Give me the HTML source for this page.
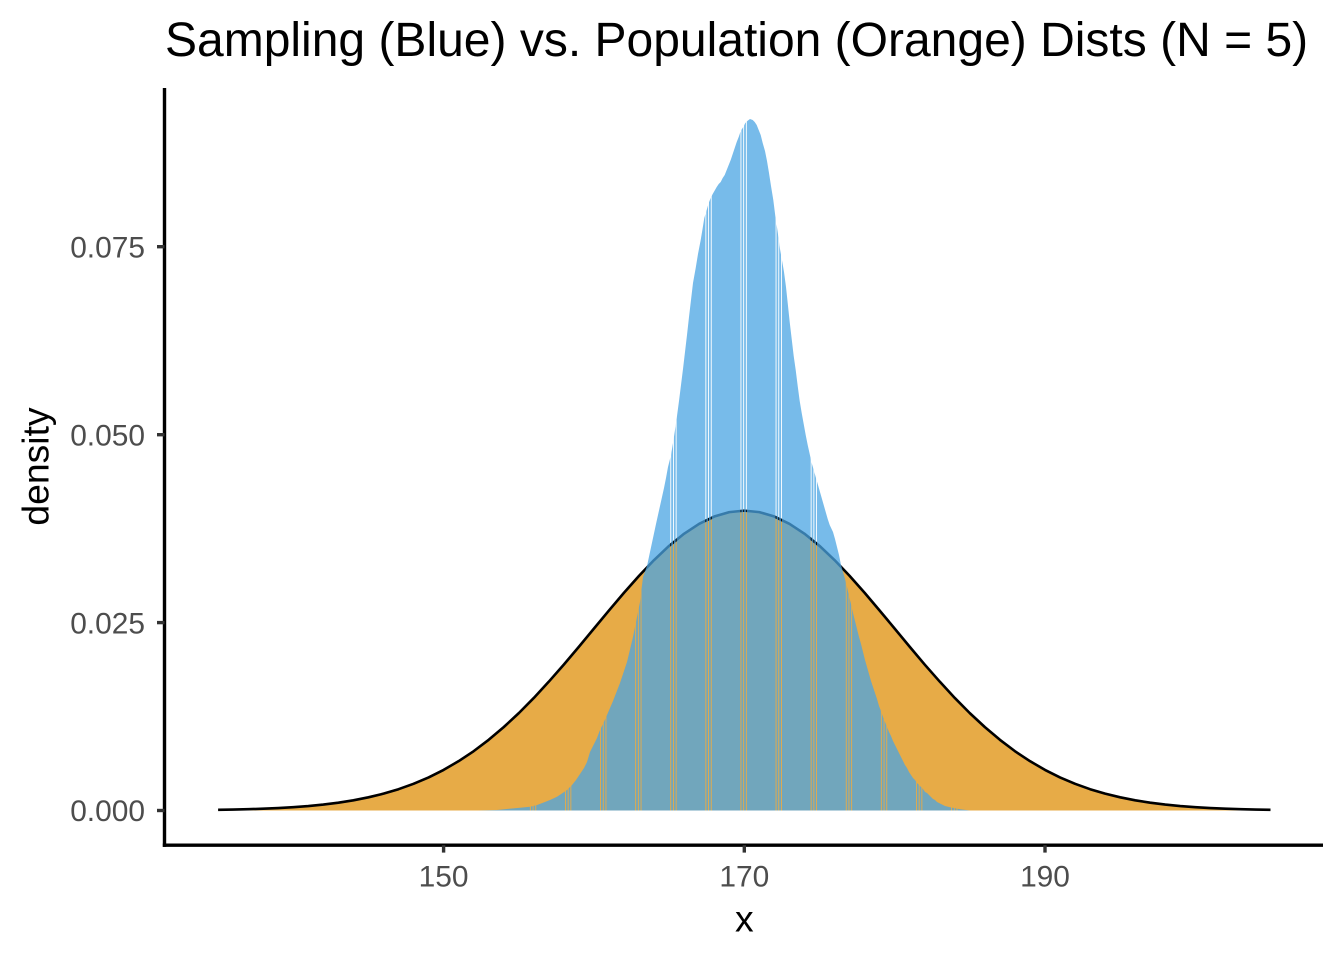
<!DOCTYPE html>
<html>
<head>
<meta charset="utf-8">
<style>
  html, body { margin:0; padding:0; background:#ffffff; }
  svg { display:block; }
  text { font-family: "Liberation Sans", Arial, sans-serif; }
</style>
</head>
<body>
<svg width="1344" height="960" viewBox="0 0 1344 960" xmlns="http://www.w3.org/2000/svg">
  <defs>
    <mask id="gaps" maskUnits="userSpaceOnUse" x="0" y="0" width="1344" height="960">
      <rect x="0" y="0" width="1344" height="960" fill="#fff"/>
      <g fill="#000">
        <rect x="529.9" y="80" width="0.9" height="740"/><rect x="532.6" y="80" width="0.9" height="740"/><rect x="535.3" y="80" width="0.9" height="740"/>
        <rect x="565.0" y="80" width="0.9" height="740"/><rect x="567.7" y="80" width="0.9" height="740"/><rect x="570.4" y="80" width="0.9" height="740"/>
        <rect x="600.1" y="80" width="0.9" height="740"/><rect x="602.8" y="80" width="0.9" height="740"/><rect x="605.5" y="80" width="0.9" height="740"/>
        <rect x="635.2" y="80" width="0.9" height="740"/><rect x="637.9" y="80" width="0.9" height="740"/><rect x="640.6" y="80" width="0.9" height="740"/>
        <rect x="670.3" y="80" width="0.9" height="740"/><rect x="673.0" y="80" width="0.9" height="740"/><rect x="675.7" y="80" width="0.9" height="740"/>
        <rect x="705.4" y="80" width="0.9" height="740"/><rect x="708.1" y="80" width="0.9" height="740"/><rect x="710.8" y="80" width="0.9" height="740"/>
        <rect x="740.5" y="80" width="0.9" height="740"/><rect x="743.2" y="80" width="0.9" height="740"/><rect x="745.9" y="80" width="0.9" height="740"/>
        <rect x="775.6" y="80" width="0.9" height="740"/><rect x="778.3" y="80" width="0.9" height="740"/><rect x="781.0" y="80" width="0.9" height="740"/>
        <rect x="810.7" y="80" width="0.9" height="740"/><rect x="813.4" y="80" width="0.9" height="740"/><rect x="816.1" y="80" width="0.9" height="740"/>
        <rect x="845.8" y="80" width="0.9" height="740"/><rect x="848.5" y="80" width="0.9" height="740"/><rect x="851.2" y="80" width="0.9" height="740"/>
        <rect x="880.9" y="80" width="0.9" height="740"/><rect x="883.6" y="80" width="0.9" height="740"/><rect x="886.3" y="80" width="0.9" height="740"/>
        <rect x="916.0" y="80" width="0.9" height="740"/><rect x="918.7" y="80" width="0.9" height="740"/><rect x="921.4" y="80" width="0.9" height="740"/>
        <rect x="951.1" y="80" width="0.9" height="740"/><rect x="953.8" y="80" width="0.9" height="740"/><rect x="956.5" y="80" width="0.9" height="740"/>
      </g>
    </mask>
  </defs>

  <!-- Title -->
  <text x="165" y="56" font-size="48" fill="#000000">Sampling (Blue) vs. Population (Orange) Dists (N = 5)</text>

  <!-- Orange population area -->
  <path fill="#E7AB47" d="M218.1,810.5 L218.1,809.84 L233.1,809.57 L248.1,809.21 L263.2,808.71 L278.2,808.04 L293.2,807.17 L308.3,806.03 L323.3,804.55 L338.4,802.67 L353.4,800.29 L368.4,797.32 L383.5,793.67 L398.5,789.21 L413.5,783.83 L428.6,777.44 L443.6,769.91 L458.6,761.18 L473.7,751.15 L488.7,739.80 L503.7,727.12 L518.8,713.14 L533.8,697.95 L548.8,681.68 L563.9,664.53 L578.9,646.74 L593.9,628.61 L609.0,610.48 L624.0,592.74 L639.1,575.78 L654.1,560.01 L669.1,545.85 L684.2,533.67 L699.2,523.81 L714.2,516.55 L729.3,512.11 L744.3,510.61 L759.3,512.11 L774.4,516.55 L789.4,523.81 L804.4,533.67 L819.5,545.85 L834.5,560.01 L849.5,575.78 L864.6,592.74 L879.6,610.48 L894.7,628.61 L909.7,646.74 L924.7,664.53 L939.8,681.68 L954.8,697.95 L969.8,713.14 L984.9,727.12 L999.9,739.80 L1014.9,751.15 L1030.0,761.18 L1045.0,769.91 L1060.0,777.44 L1075.1,783.83 L1090.1,789.21 L1105.1,793.67 L1120.2,797.32 L1135.2,800.29 L1150.2,802.67 L1165.3,804.55 L1180.3,806.03 L1195.4,807.17 L1210.4,808.04 L1225.4,808.71 L1240.5,809.21 L1255.5,809.57 L1270.5,809.84 L1270.5,810.5 Z"/>

  <!-- Black population curve -->
  <polyline fill="none" stroke="#000000" stroke-width="2.6" stroke-linejoin="round" points="218.1,809.84 233.1,809.57 248.1,809.21 263.2,808.71 278.2,808.04 293.2,807.17 308.3,806.03 323.3,804.55 338.4,802.67 353.4,800.29 368.4,797.32 383.5,793.67 398.5,789.21 413.5,783.83 428.6,777.44 443.6,769.91 458.6,761.18 473.7,751.15 488.7,739.80 503.7,727.12 518.8,713.14 533.8,697.95 548.8,681.68 563.9,664.53 578.9,646.74 593.9,628.61 609.0,610.48 624.0,592.74 639.1,575.78 654.1,560.01 669.1,545.85 684.2,533.67 699.2,523.81 714.2,516.55 729.3,512.11 744.3,510.61 759.3,512.11 774.4,516.55 789.4,523.81 804.4,533.67 819.5,545.85 834.5,560.01 849.5,575.78 864.6,592.74 879.6,610.48 894.7,628.61 909.7,646.74 924.7,664.53 939.8,681.68 954.8,697.95 969.8,713.14 984.9,727.12 999.9,739.80 1014.9,751.15 1030.0,761.18 1045.0,769.91 1060.0,777.44 1075.1,783.83 1090.1,789.21 1105.1,793.67 1120.2,797.32 1135.2,800.29 1150.2,802.67 1165.3,804.55 1180.3,806.03 1195.4,807.17 1210.4,808.04 1225.4,808.71 1240.5,809.21 1255.5,809.57 1270.5,809.84"/>

  <!-- Blue sampling distribution -->
  <path fill="rgb(74,164,227)" fill-opacity="0.75" mask="url(#gaps)" d="M478,810.5 L497,810 L507,809 L520,807.7 L530,806.7 L537,805 L543,802.7 L550,800 L557,796.7 L563,792.7 L567,790 L572,785 L576,780 L580,774 L584,768 L587,762 L590,752 L594,744 L597,738 L600,730 L603,724 L607,715 L610,708 L613,701 L620,683 L627,662 L633,637 L640,602 L643,577 L647,566 L650,552 L653,538 L656,524 L658,515 L660,506 L662,497 L664,488 L666,478 L668,467 L671,455 L673,443 L675,430 L677,416 L679,401 L681,385 L683,369 L685,352 L687,335 L689,317 L691,300 L693,283 L695.7,268 L698,254 L700.7,240 L702.7,228 L704.3,218 L706.7,210 L708.7,203 L710.7,198 L712.7,194 L715,190 L716.7,187 L718.7,184 L720.7,182 L722.7,178 L724.7,175 L726.7,170 L728.7,165 L730.7,160 L732.7,154 L734.7,148 L736.7,142 L738.7,137 L740.7,131 L743.3,127 L745.3,123 L747.3,121 L750,119 L752.7,120 L754.7,122 L756.7,125 L758.7,130 L760.7,135 L762.7,143 L765,151 L767,161 L769,173 L771,186 L773.3,200 L775.3,216 L777.7,232 L780,249 L782.3,262 L784,272 L786,287 L787.7,303 L789.7,322 L791.7,339 L793.7,356 L795.7,370 L797.7,386 L799.7,401 L801.7,413 L803.7,424 L805.7,435 L807.7,445 L809.7,454 L811.7,463 L813.7,470 L815.7,477 L817.7,484 L819.7,491 L821.7,498 L823.7,505 L825.7,512 L827.7,519 L829.7,525 L833,532 L835,539 L837,547 L839,555 L841,565 L843,572 L845,579 L847,587 L849,596 L851,604 L853,613 L855,621 L857,629 L859,637 L861,644 L863,652 L865,660 L867,667 L869,674 L871,681 L873,687 L875,693 L877,699 L879,706 L881,711 L883,717 L885,722 L887,727 L889,732 L891,736 L893,741 L895,745 L897,749 L899,753 L901,757 L903,761 L905,765 L907,768 L909,772 L911,775 L913,778 L915,780 L917,783 L919,785 L921,787 L923,789 L925,792 L927,793 L929,795 L931,797 L933,799 L935,800 L937,802 L939,803 L941,804 L943,805 L945,806 L950,807.3 L955,808.3 L960,809.3 L966,810 L970,810.5 Z"/>

  <!-- Axes -->
  <line x1="164.5" y1="88" x2="164.5" y2="846.9" stroke="#000000" stroke-width="3.4"/>
  <line x1="162.8" y1="845.2" x2="1323" y2="845.2" stroke="#000000" stroke-width="3.4"/>

  <!-- Y ticks -->
  <g stroke="#333333" stroke-width="3.4">
    <line x1="157" y1="810.5" x2="164.5" y2="810.5"/>
    <line x1="157" y1="622.6" x2="164.5" y2="622.6"/>
    <line x1="157" y1="434.7" x2="164.5" y2="434.7"/>
    <line x1="157" y1="246.7" x2="164.5" y2="246.7"/>
  </g>
  <g font-size="29.9" fill="#4D4D4D" text-anchor="end">
    <text x="145" y="821.2">0.000</text>
    <text x="145" y="633.3">0.025</text>
    <text x="145" y="445.4">0.050</text>
    <text x="145" y="257.4">0.075</text>
  </g>

  <!-- X ticks -->
  <g stroke="#333333" stroke-width="3.4">
    <line x1="443.6" y1="845.2" x2="443.6" y2="852.6"/>
    <line x1="744.3" y1="845.2" x2="744.3" y2="852.6"/>
    <line x1="1045.0" y1="845.2" x2="1045.0" y2="852.6"/>
  </g>
  <g font-size="29.9" fill="#4D4D4D" text-anchor="middle">
    <text x="443.6" y="886.7">150</text>
    <text x="744.3" y="886.7">170</text>
    <text x="1045.0" y="886.7">190</text>
  </g>

  <!-- Axis titles -->
  <text x="744.3" y="931.5" font-size="37.3" fill="#000000" text-anchor="middle">x</text>
  <text transform="translate(48.5,466.5) rotate(-90)" font-size="37.3" fill="#000000" text-anchor="middle">density</text>
</svg>
</body>
</html>
